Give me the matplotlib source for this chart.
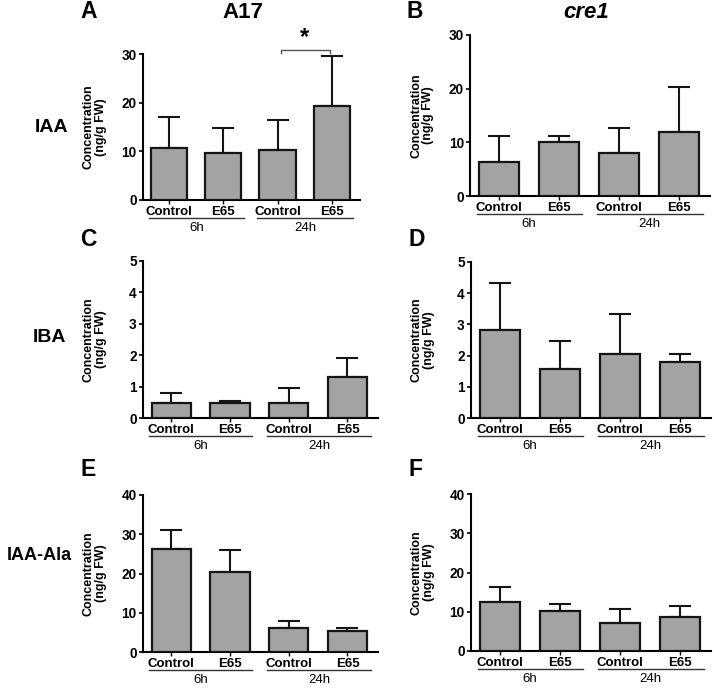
import matplotlib
matplotlib.use("Agg")
from matplotlib import pyplot as plt
from matplotlib import transforms
import numpy as np

plt.rcParams['font.family'] = ['Liberation Sans', 'DejaVu Sans']

W, H = 714, 690
fig = plt.figure(figsize=(W / 100, H / 100), dpi=100)

# Data (mean and upper error)
treatments = ['Control', 'E65', 'Control', 'E65']
groups = ['6h', '24h']

iaa_a17 = [10.7, 9.7, 10.2, 19.3]
iaa_a17_err = [6.4, 5.1, 6.2, 10.3]
iaa_cre1 = [6.4, 10.1, 8.0, 11.9]
iaa_cre1_err = [4.8, 1.1, 4.7, 8.5]

iba_a17 = [0.49, 0.47, 0.48, 1.31]
iba_a17_err = [0.31, 0.06, 0.48, 0.59]
iba_cre1 = [2.83, 1.57, 2.04, 1.81]
iba_cre1_err = [1.51, 0.90, 1.30, 0.25]

ala_a17 = [26.3, 20.3, 6.0, 5.4]
ala_a17_err = [4.8, 5.7, 1.9, 0.8]
ala_cre1 = [12.5, 10.2, 7.2, 8.7]
ala_cre1_err = [3.8, 1.9, 3.5, 2.8]

# panel: (letter, values, errors, ymax, step, pixel box left, top, right, bottom)
panels = [
    ('A', iaa_a17, iaa_a17_err, 30, 10, (143, 54, 360, 200)),
    ('B', iaa_cre1, iaa_cre1_err, 30, 10, (470, 35, 710, 196)),
    ('C', iba_a17, iba_a17_err, 5, 1, (143, 261, 378, 418)),
    ('D', iba_cre1, iba_cre1_err, 5, 1, (471, 262, 711, 418)),
    ('E', ala_a17, ala_a17_err, 40, 10, (143, 495, 378, 652)),
    ('F', ala_cre1, ala_cre1_err, 40, 10, (471, 494, 711, 651)),
]

bar_color = '#a3a3a3'
x = np.arange(len(treatments))
axes = {}

for letter, vals, errs, ymax, step, (l, t, r, b) in panels:
    ax = fig.add_axes([l / W, 1 - b / H, (r - l) / W, (b - t) / H])
    axes[letter] = ax
    ax.bar(x, vals, width=0.67, color=bar_color, edgecolor='#151515',
           linewidth=1.6, zorder=3)
    ax.errorbar(x, vals, yerr=[np.zeros(len(vals)), errs], fmt='none',
                ecolor='#151515', elinewidth=1.5, capsize=8, capthick=1.5,
                zorder=2)
    ax.set_xlim(-0.48, 3.52)
    ax.set_ylim(0, ymax)
    ax.set_yticks(np.arange(0, ymax + step / 2, step))
    ax.set_xticks(x)
    ax.set_xticklabels(treatments, fontsize=9.5, fontweight='bold')
    for lab in ax.get_yticklabels():
        lab.set_fontweight('bold')
    ax.tick_params(axis='y', labelsize=9.8, length=3, width=1.2, pad=1.5)
    ax.tick_params(axis='x', length=3, width=1.0, pad=1.5)
    ax.spines['top'].set_visible(False)
    ax.spines['right'].set_visible(False)
    ax.spines['left'].set_linewidth(1.5)
    ax.spines['bottom'].set_linewidth(1.5)
    ax.set_ylabel('Concentration\n(ng/g FW)', fontsize=9, fontweight='bold',
                  linespacing=1.0)
    ax.yaxis.set_label_coords(-36 / (r - l), 0.5)

    # group underlines and labels
    tr_line = transforms.offset_copy(ax.get_xaxis_transform(), fig=fig,
                                     y=-13, units='points')
    tr_text = transforms.offset_copy(ax.get_xaxis_transform(), fig=fig,
                                     y=-20.5, units='points')
    for (x0, x1), g in zip([(-0.37, 1.38), (1.63, 3.4)], groups):
        ax.plot([x0, x1], [0, 0], color='#333333', lw=1.0,
                transform=tr_line, clip_on=False)
        ax.text((x0 + x1) / 2, 0, g, transform=tr_text, ha='center',
                va='center', fontsize=9.5)

# panel letters
letter_pos = {'A': (80, 12), 'B': (407, 12), 'C': (80, 240),
              'D': (409, 240), 'E': (80, 470), 'F': (409, 470)}
for k, (px, py) in letter_pos.items():
    fig.text(px / W, 1 - py / H, k, fontsize=16.5, fontweight='bold',
             ha='left', va='center')

# column titles
fig.text(243 / W, 1 - 12 / H, 'A17', fontsize=16, fontweight='bold',
         ha='center', va='center')
fig.text(586 / W, 1 - 12 / H, 'cre1', fontsize=16, fontweight='bold',
         style='italic', ha='center', va='center')

# row labels
fig.text(52 / W, 1 - 128 / H, 'IAA', fontsize=14, fontweight='bold',
         ha='center', va='center')
fig.text(50 / W, 1 - 338 / H, 'IBA', fontsize=14, fontweight='bold',
         ha='center', va='center')
fig.text(39 / W, 1 - 555 / H, 'IAA-Ala', fontsize=13, fontweight='bold',
         ha='center', va='center')

# significance bracket in panel A
axA = axes['A']
axA.plot([2.06, 2.06, 2.97, 2.97], [30.2, 30.8, 30.8, 30.2], color='#555555',
         lw=1.0, clip_on=False)
axA.text(2.5, 31.0, '*', fontsize=17, fontweight='bold', ha='center',
         va='bottom')

fig.savefig('out.png', dpi=100)
